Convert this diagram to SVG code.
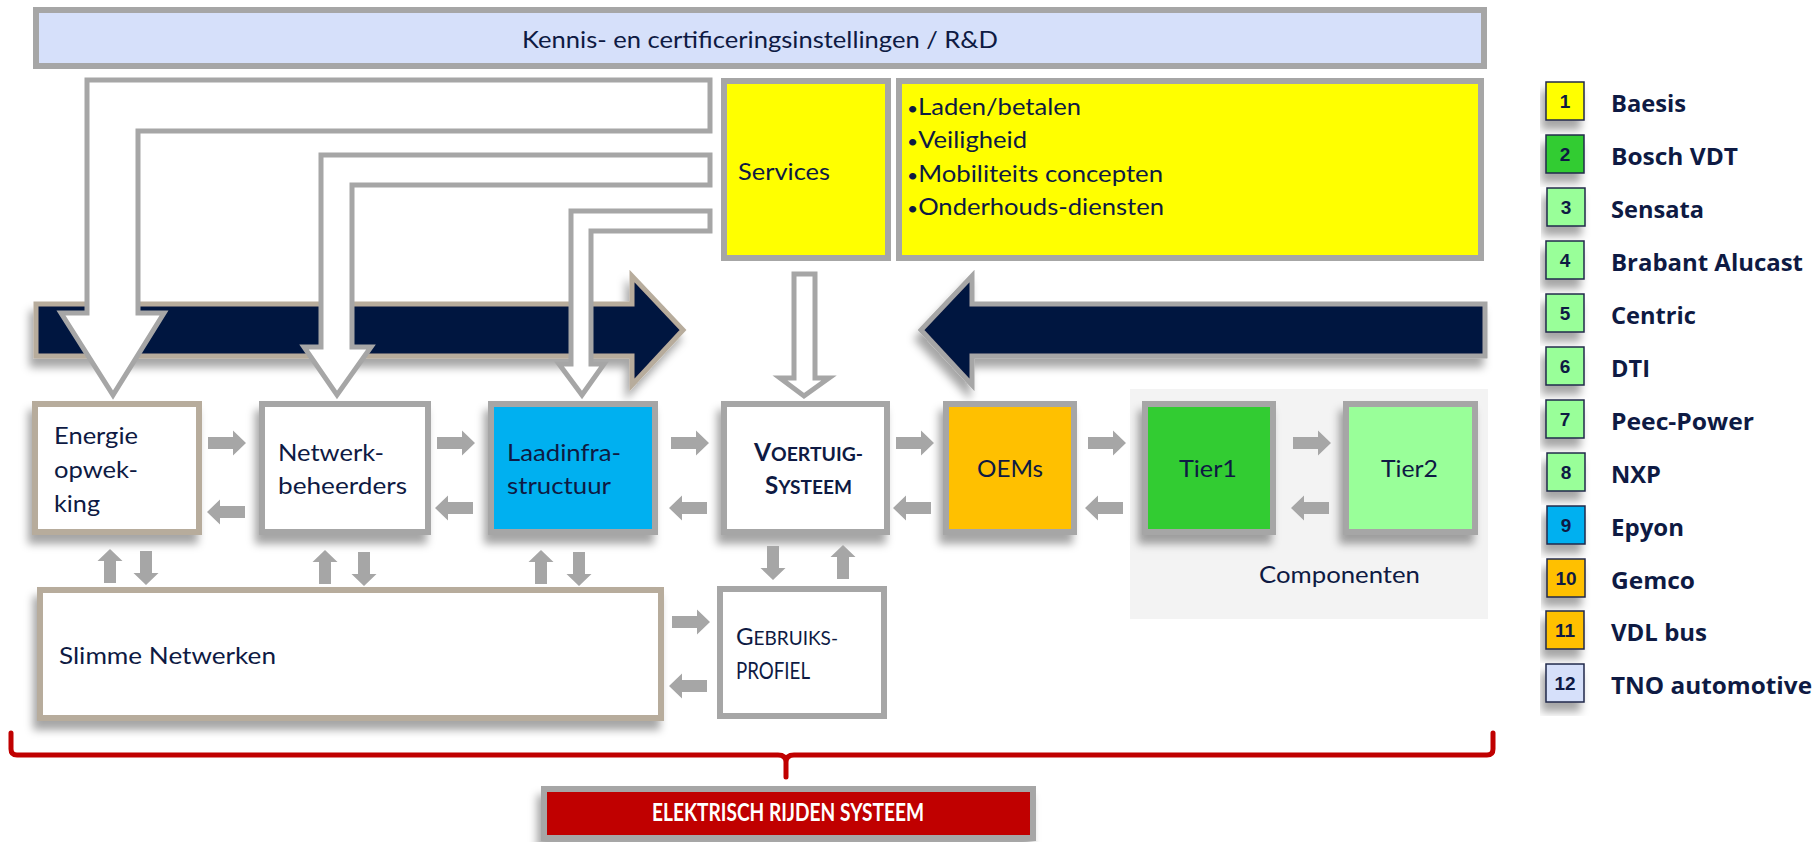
<svg xmlns="http://www.w3.org/2000/svg" width="1818" height="842" viewBox="0 0 1818 842">
<defs>
<style>
.t{font-family:Lato,"Open Sans","DejaVu Sans",sans-serif;fill:#0E1A43;font-size:24px}
.b{font-weight:bold}
.box{stroke:#A6A6A6;stroke-width:6}
.tan{stroke:#B7AC9C;stroke-width:6}
.ga{fill:#A6A6A6}
.el{fill:#FFFFFF;stroke:#A6A6A6;stroke-width:5}
.lg{stroke:#1F2A4A;stroke-width:1.5}
.ln{font-family:"Liberation Sans",Arial,sans-serif;font-weight:bold;font-size:19px;fill:#0E1A43;text-anchor:middle}
.lt{font-family:"Open Sans",Lato,sans-serif;font-weight:bold;font-size:23px;fill:#0E1A43}
</style>
<filter id="sh" x="-15%" y="-15%" width="130%" height="150%">
<feDropShadow dx="-4" dy="9" stdDeviation="4" flood-color="#000" flood-opacity="0.35"/>
</filter>
<path id="ah" d="M0,-6 H25 V-12.5 L38,0 L25,12.5 V6 H0 Z"/>
<path id="av" d="M0,-6 H22 V-12.5 L34,0 L22,12.5 V6 H0 Z"/>
</defs>
<rect width="1818" height="842" fill="#FFFFFF"/>

<g id="top-bar">
<rect x="36" y="10" width="1448" height="56" fill="#D6E0FA" class="box"/>
<text class="t" x="522" y="48" font-size="25" textLength="476" lengthAdjust="spacingAndGlyphs">Kennis- en certificeringsinstellingen / R&amp;D</text>
</g>

<g id="services">
<rect x="724" y="81" width="164" height="177" fill="#FFFF00" class="box"/>
<text class="t" x="738" y="180" textLength="92" lengthAdjust="spacingAndGlyphs">Services</text>
</g>

<g id="services-list">
<rect x="899" y="81" width="582" height="177" fill="#FFFF00" class="box"/>
<text class="t" x="907" y="115" textLength="174" lengthAdjust="spacingAndGlyphs"><tspan font-size="18">•</tspan>Laden/betalen</text>
<text class="t" x="907" y="148" textLength="120" lengthAdjust="spacingAndGlyphs"><tspan font-size="18">•</tspan>Veiligheid</text>
<text class="t" x="907" y="182" textLength="256" lengthAdjust="spacingAndGlyphs"><tspan font-size="18">•</tspan>Mobiliteits concepten</text>
<text class="t" x="907" y="215" textLength="257" lengthAdjust="spacingAndGlyphs"><tspan font-size="18">•</tspan>Onderhouds-diensten</text>
</g>

<g id="flow-arrows">
<path d="M36,304 H632 V276 L683,330 L632,385 V356 H36 Z" fill="#06143F" stroke="#B7AC9C" stroke-width="5" filter="url(#sh)"/>
<path d="M1485,304 H972 V276 L921,330 L972,385 V356 H1485 Z" fill="#06143F" stroke="#A6A6A6" stroke-width="5" filter="url(#sh)"/>
</g>

<g id="componenten-bg">
<rect x="1130" y="389" width="358" height="230" fill="#F3F3F3"/>
<text class="t" x="1259" y="583" textLength="161" lengthAdjust="spacingAndGlyphs">Componenten</text>
</g>

<g id="energie">
<rect x="35" y="404" width="164" height="128" fill="#FFFFFF" class="tan" filter="url(#sh)"/>
<text class="t" x="54" y="444" textLength="84" lengthAdjust="spacingAndGlyphs">Energie</text>
<text class="t" x="54" y="478" textLength="84" lengthAdjust="spacingAndGlyphs">opwek-</text>
<text class="t" x="54" y="512" textLength="46" lengthAdjust="spacingAndGlyphs">king</text>
</g>

<g id="netwerkbeheerders">
<rect x="262" y="404" width="166" height="128" fill="#FFFFFF" class="box" filter="url(#sh)"/>
<text class="t" x="278" y="461" textLength="106" lengthAdjust="spacingAndGlyphs">Netwerk-</text>
<text class="t" x="278" y="494" textLength="129" lengthAdjust="spacingAndGlyphs">beheerders</text>
</g>

<g id="laadinfrastructuur">
<rect x="491" y="404" width="164" height="128" fill="#00B0F0" class="box" filter="url(#sh)"/>
<text class="t" x="507" y="461" textLength="114" lengthAdjust="spacingAndGlyphs">Laadinfra-</text>
<text class="t" x="507" y="494" textLength="104" lengthAdjust="spacingAndGlyphs">structuur</text>
</g>

<g id="voertuigsysteem">
<rect x="724" y="404" width="163" height="128" fill="#FFFFFF" class="box" filter="url(#sh)"/>
<text class="t b" x="754" y="461" textLength="109" lengthAdjust="spacingAndGlyphs">V<tspan font-size="19">OERTUIG-</tspan></text>
<text class="t b" x="765" y="494" textLength="87" lengthAdjust="spacingAndGlyphs">S<tspan font-size="19">YSTEEM</tspan></text>
</g>

<g id="oems">
<rect x="946" y="404" width="128" height="128" fill="#FFC000" class="box" filter="url(#sh)"/>
<text class="t" x="977" y="477" textLength="66" lengthAdjust="spacingAndGlyphs">OEMs</text>
</g>

<g id="tier1">
<rect x="1145" y="404" width="128" height="128" fill="#33CC33" class="box" filter="url(#sh)"/>
<text class="t" x="1179" y="477" textLength="58" lengthAdjust="spacingAndGlyphs">Tier1</text>
</g>

<g id="tier2">
<rect x="1346" y="404" width="129" height="128" fill="#99FF99" class="box" filter="url(#sh)"/>
<text class="t" x="1381" y="477" textLength="57" lengthAdjust="spacingAndGlyphs">Tier2</text>
</g>

<g id="slimme-netwerken">
<rect x="40" y="590" width="621" height="128" fill="#FFFFFF" class="tan" filter="url(#sh)"/>
<text class="t" x="59" y="664" textLength="217" lengthAdjust="spacingAndGlyphs">Slimme Netwerken</text>
</g>

<g id="gebruiksprofiel">
<rect x="720" y="589" width="164" height="127" fill="#FFFFFF" class="box"/>
<text class="t" x="736" y="645" textLength="102" lengthAdjust="spacingAndGlyphs">G<tspan font-size="19">EBRUIKS-</tspan></text>
<text class="t" x="736" y="679" font-size="19" textLength="74" lengthAdjust="spacingAndGlyphs">PROFIEL</text>
</g>

<g id="connectors">
<path class="el" d="M710,80 H87 V313 H61 L113,395 L164,313 H138 V131 H710 Z"/>
<path class="el" d="M710,155 H321 V347 H304 L337,395 L371,347 H352 V185 H710 Z"/>
<path class="el" d="M710,211 H571 V364 H559 L582,395 L604,364 H591 V231 H710 Z"/>
<path class="el" d="M794,274 V378 H780 L804,396 L829,378 H815 V274 Z"/>
<g class="ga">
<use href="#ah" transform="translate(208,443)"/>
<use href="#ah" transform="translate(437,443)"/>
<use href="#ah" transform="translate(671,443)"/>
<use href="#ah" transform="translate(896,443)"/>
<use href="#ah" transform="translate(1088,443)"/>
<use href="#ah" transform="translate(1293,443)"/>
<use href="#ah" transform="translate(672,622)"/>
<use href="#ah" transform="translate(245,512) rotate(180)"/>
<use href="#ah" transform="translate(473,508) rotate(180)"/>
<use href="#ah" transform="translate(707,508) rotate(180)"/>
<use href="#ah" transform="translate(931,508) rotate(180)"/>
<use href="#ah" transform="translate(1123,508) rotate(180)"/>
<use href="#ah" transform="translate(1329,508) rotate(180)"/>
<use href="#ah" transform="translate(707,686) rotate(180)"/>
<use href="#av" transform="translate(110,583) rotate(-90)"/>
<use href="#av" transform="translate(146,551) rotate(90)"/>
<use href="#av" transform="translate(325,584) rotate(-90)"/>
<use href="#av" transform="translate(364,552) rotate(90)"/>
<use href="#av" transform="translate(541,584) rotate(-90)"/>
<use href="#av" transform="translate(579,552) rotate(90)"/>
<use href="#av" transform="translate(773,546) rotate(90)"/>
<use href="#av" transform="translate(843,579) rotate(-90)"/>
</g>
</g>

<g id="bracket">
<path d="M11,733 V749 Q11,755 17,755 H778 Q786,755 786,762 V777 M786,762 Q786,755 794,755 H1487 Q1493,755 1493,749 V733" fill="none" stroke="#C00000" stroke-width="5" stroke-linecap="round" stroke-linejoin="round"/>
</g>

<g id="elektrisch-rijden-systeem">
<rect x="544" y="789" width="489" height="49" fill="#C00000" class="box" filter="url(#sh)"/>
<text class="t b" x="788" y="821" style="fill:#FFFFFF" font-size="17" text-anchor="middle" textLength="272" lengthAdjust="spacingAndGlyphs">ELEKTRISCH RIJDEN SYSTEEM</text>
</g>

<g id="legend">
<g id="leg-1"><rect x="1546" y="82" width="38" height="38" fill="#FFFF00" class="lg" filter="url(#sh)"/><text class="ln" x="1565" y="108">1</text><text class="lt" x="1611" y="112" textLength="75" lengthAdjust="spacingAndGlyphs">Baesis</text></g>
<g id="leg-2"><rect x="1546" y="135" width="38" height="38" fill="#33CC33" class="lg" filter="url(#sh)"/><text class="ln" x="1565" y="161">2</text><text class="lt" x="1611" y="165" textLength="127" lengthAdjust="spacingAndGlyphs">Bosch VDT</text></g>
<g id="leg-3"><rect x="1547" y="188" width="38" height="38" fill="#99FF99" class="lg" filter="url(#sh)"/><text class="ln" x="1566" y="214">3</text><text class="lt" x="1611" y="218" textLength="93" lengthAdjust="spacingAndGlyphs">Sensata</text></g>
<g id="leg-4"><rect x="1546" y="241" width="38" height="38" fill="#99FF99" class="lg" filter="url(#sh)"/><text class="ln" x="1565" y="267">4</text><text class="lt" x="1611" y="271" textLength="192" lengthAdjust="spacingAndGlyphs">Brabant Alucast</text></g>
<g id="leg-5"><rect x="1546" y="294" width="38" height="38" fill="#99FF99" class="lg" filter="url(#sh)"/><text class="ln" x="1565" y="320">5</text><text class="lt" x="1611" y="324" textLength="85" lengthAdjust="spacingAndGlyphs">Centric</text></g>
<g id="leg-6"><rect x="1546" y="347" width="38" height="38" fill="#99FF99" class="lg" filter="url(#sh)"/><text class="ln" x="1565" y="373">6</text><text class="lt" x="1611" y="377" textLength="39" lengthAdjust="spacingAndGlyphs">DTI</text></g>
<g id="leg-7"><rect x="1546" y="400" width="38" height="38" fill="#99FF99" class="lg" filter="url(#sh)"/><text class="ln" x="1565" y="426">7</text><text class="lt" x="1611" y="430" textLength="143" lengthAdjust="spacingAndGlyphs">Peec-Power</text></g>
<g id="leg-8"><rect x="1547" y="453" width="38" height="38" fill="#99FF99" class="lg" filter="url(#sh)"/><text class="ln" x="1566" y="479">8</text><text class="lt" x="1611" y="483" textLength="50" lengthAdjust="spacingAndGlyphs">NXP</text></g>
<g id="leg-9"><rect x="1547" y="506" width="38" height="38" fill="#00B0F0" class="lg" filter="url(#sh)"/><text class="ln" x="1566" y="532">9</text><text class="lt" x="1611" y="536" textLength="73" lengthAdjust="spacingAndGlyphs">Epyon</text></g>
<g id="leg-10"><rect x="1547" y="559" width="38" height="38" fill="#FFC000" class="lg" filter="url(#sh)"/><text class="ln" x="1566" y="585">10</text><text class="lt" x="1611" y="589" textLength="84" lengthAdjust="spacingAndGlyphs">Gemco</text></g>
<g id="leg-11"><rect x="1546" y="611" width="38" height="38" fill="#FFC000" class="lg" filter="url(#sh)"/><text class="ln" x="1565" y="637">11</text><text class="lt" x="1611" y="641" textLength="96" lengthAdjust="spacingAndGlyphs">VDL bus</text></g>
<g id="leg-12"><rect x="1546" y="664" width="38" height="38" fill="#D6E0FA" class="lg" filter="url(#sh)"/><text class="ln" x="1565" y="690">12</text><text class="lt" x="1611" y="694" textLength="201" lengthAdjust="spacingAndGlyphs">TNO automotive</text></g>
</g>
</svg>
